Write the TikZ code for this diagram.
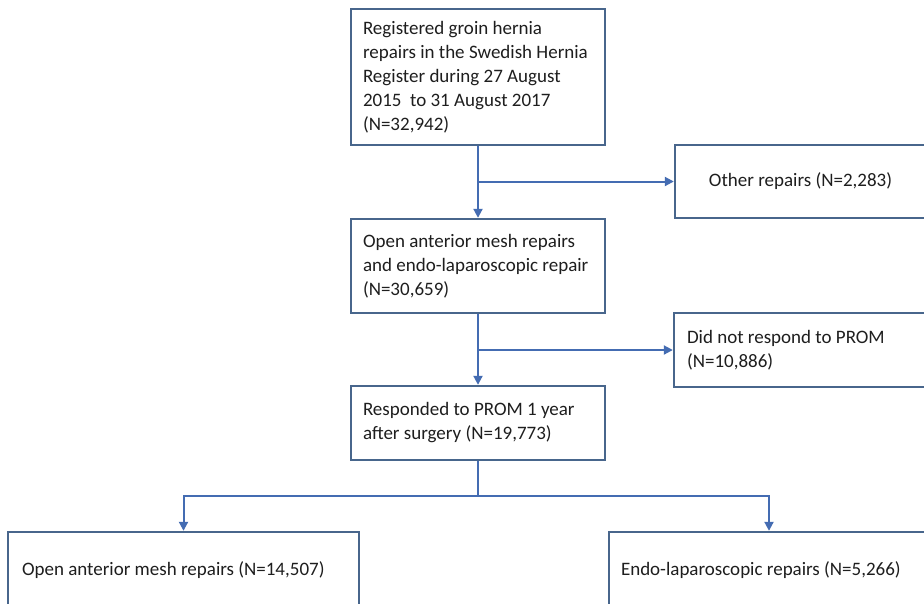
\documentclass[tikz,border=0pt]{standalone}
\usepackage{fontspec}
\setmainfont{Carlito}
\usetikzlibrary{arrows.meta,calc}
\definecolor{boxcol}{RGB}{72,102,140}
\definecolor{arrcol}{RGB}{68,108,178}
\definecolor{txtcol}{RGB}{30,30,30}
\tikzset{
  flowbox/.style={draw=boxcol, line width=2.4pt, fill=white, inner sep=0pt},
  boxtext/.style={text=txtcol, align=left, inner sep=0pt, font=\fontsize{19}{24}\selectfont},
  conn/.style={draw=arrcol, line width=2pt},
  arr/.style={conn, -{Triangle[length=9pt,width=9pt]}}
}
\begin{document}
\begin{tikzpicture}[x=1pt,y=-1pt]
\clip (0,0) rectangle (924,603);
\fill[white] (0,0) rectangle (924,603);
% boxes
\node[flowbox, minimum width=254pt, minimum height=136pt] (b1) at (478,77) {};
\node[flowbox, minimum width=251pt, minimum height=73pt] (other) at (800.5,181.5) {};
\node[flowbox, minimum width=254pt, minimum height=94pt] (b2) at (478,266) {};
\node[flowbox, minimum width=252pt, minimum height=74pt] (dnr) at (800,350) {};
\node[flowbox, minimum width=254pt, minimum height=74pt] (b3) at (478,423) {};
\node[flowbox, minimum width=351pt, minimum height=76pt] (bl) at (183.5,570) {};
\node[flowbox, minimum width=320pt, minimum height=76pt] (br) at (769,570) {};
% texts
\node[boxtext, anchor=west] (t1) at ([xshift=13pt]b1.west) {Registered groin hernia\\repairs in the Swedish Hernia\\Register during 27 August\\2015\ \ to 31 August 2017\\(N=32,942)};
\node[boxtext] (tother) at (other.center) {Other repairs (N=2,283)};
\node[boxtext, anchor=west] (t2) at ([xshift=13pt]b2.west) {Open anterior mesh repairs\\and endo-laparoscopic repair\\(N=30,659)};
\node[boxtext, anchor=west] (tdnr) at ([xshift=14pt]dnr.west) {Did not respond to PROM\\(N=10,886)};
\node[boxtext, anchor=west] (t3) at ([xshift=13pt]b3.west) {Responded to PROM 1 year\\after surgery (N=19,773)};
\node[boxtext, anchor=west] (tbl) at ([xshift=15pt]bl.west) {Open anterior mesh repairs (N=14,507)};
\node[boxtext, anchor=west] (tbr) at ([xshift=13pt]br.west) {Endo-laparoscopic repairs (N=5,266)};
% junctions
\coordinate (j1) at (b1.south |- other.west);
\coordinate (j2) at (b2.south |- dnr.west);
\coordinate (j3) at ($(b3.south)+(0,35)$);
% connectors
\draw[arr] (b1.south) -- (b2.north);
\draw[arr] (j1) -- (other.west);
\draw[arr] (b2.south) -- (b3.north);
\draw[arr] (j2) -- (dnr.west);
\draw[conn] (b3.south) -- (j3);
\draw[arr] (j3) -| (bl.north);
\draw[arr] (j3) -| (br.north);
\end{tikzpicture}
\end{document}
